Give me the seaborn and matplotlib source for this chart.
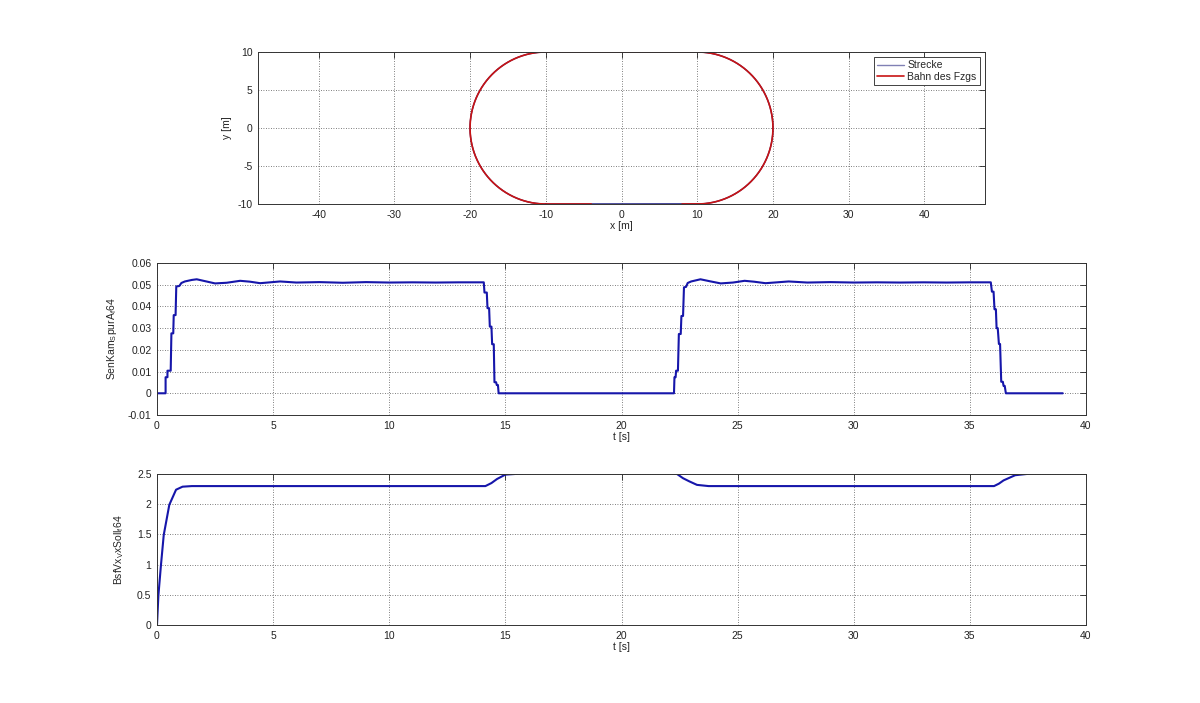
import numpy as np
import pandas as pd
import seaborn as sns
import matplotlib.pyplot as plt

# --- track geometry (stadium): straights from x=-10..10 at y=+-10, arcs of radius 10
arc_radius = 10.0
arc_centres_x = [10.0, -10.0]
straight_x = [-10.0, 10.0]
path_start_x = 8.0     # vehicle path begins on the lower straight
path_end_x = -4.0      # ... and ends on the lower straight

# --- SenKam_SpurA_f64 over time
curv_t = [0, 0.37, 0.37, 0.45, 0.45, 0.59, 0.62, 0.70, 0.72, 0.80, 0.83, 0.96, 1.05,
          1.2, 1.5, 1.71, 2.0, 2.5, 3.0, 3.58, 4.0, 4.44, 5.3, 6.0, 7.0, 8.0, 9.0,
          10.0, 11.0, 12.0, 13.0, 14.07,
          14.10, 14.20, 14.23, 14.30, 14.33, 14.40, 14.43, 14.50, 14.53, 14.60, 14.63,
          14.68, 14.71, 22.26,
          22.28, 22.33, 22.35, 22.43, 22.47, 22.55, 22.58, 22.65, 22.69, 22.78, 22.85,
          23.0, 23.4, 23.8, 24.27, 24.8, 25.3, 25.7, 26.2, 27.2, 28.0, 29.0, 30.0,
          31.0, 32.0, 33.0, 34.0, 35.0, 35.9,
          35.95, 36.02, 36.06, 36.12, 36.15, 36.20, 36.25, 36.30, 36.35, 36.42, 36.45,
          36.50, 36.55, 39.0]
curv_v = [0, 0, 0.0074, 0.0074, 0.0104, 0.0104, 0.0276, 0.0276, 0.0360, 0.0360, 0.0492, 0.0494, 0.0508,
          0.0515, 0.0522, 0.0525, 0.0518, 0.0506, 0.0509, 0.0518, 0.0514, 0.0507, 0.0515, 0.0510, 0.0512, 0.0509, 0.0512,
          0.0510, 0.0511, 0.0510, 0.0511, 0.0511,
          0.0464, 0.0464, 0.0392, 0.0392, 0.0307, 0.0307, 0.0226, 0.0226, 0.0051, 0.0051, 0.0038,
          0.0038, 0.0, 0.0,
          0.0074, 0.0074, 0.0104, 0.0104, 0.0273, 0.0273, 0.0356, 0.0356, 0.0488, 0.0490, 0.0508,
          0.0515, 0.0525, 0.0516, 0.0506, 0.0510, 0.0518, 0.0514, 0.0507, 0.0515, 0.0510, 0.0512, 0.0510,
          0.0511, 0.0510, 0.0511, 0.0510, 0.0511, 0.0511,
          0.0468, 0.0468, 0.0387, 0.0387, 0.0300, 0.0300, 0.0227, 0.0227, 0.0053, 0.0053, 0.0034,
          0.0034, 0.0, 0.0]

# --- BsfVx_VxSoll_f64 over time
vel_t = [0, 0.06, 0.17, 0.29, 0.53, 0.82, 1.1, 1.5, 14.14, 14.4, 14.64, 15.0, 15.6, 16.5,
         21.5, 22.39, 22.65, 22.92, 23.25, 23.75, 36.04, 36.25, 36.45, 36.95, 37.44, 38.2, 39.0]
vel_v = [0, 0.49, 0.99, 1.49, 1.99, 2.24, 2.29, 2.30, 2.30, 2.35, 2.417, 2.49, 2.505, 2.56,
         2.56, 2.50, 2.43, 2.378, 2.32, 2.30, 2.30, 2.34, 2.394, 2.48, 2.50, 2.55, 2.57]

top_xticks = [-40, -30, -20, -10, 0, 10, 20, 30, 40]
top_yticks = [-10, -5, 0, 5, 10]
mid_yticks = [-0.01, 0, 0.01, 0.02, 0.03, 0.04, 0.05, 0.06]
mid_ylabels = ["-0.01", "0", "0.01", "0.02", "0.03", "0.04", "0.05", "0.06"]
bot_yticks = [0, 0.5, 1, 1.5, 2, 2.5]
bot_ylabels = ["0", "0.5", "1", "1.5", "2", "2.5"]
t_ticks = [0, 5, 10, 15, 20, 25, 30, 35, 40]


def arc(cx, a0, a1, n=120):
    a = np.linspace(np.radians(a0), np.radians(a1), n)
    return cx + arc_radius * np.cos(a), arc_radius * np.sin(a)


def stadium(x_from, x_to):
    rx, ry = arc(arc_centres_x[0], -90, 90)
    lx, ly = arc(arc_centres_x[1], 90, 270)
    xs = np.concatenate([[x_from, straight_x[1]], rx, [straight_x[1], straight_x[0]], lx, [straight_x[0], x_to]])
    ys = np.concatenate([[-arc_radius, -arc_radius], ry, [arc_radius, arc_radius], ly, [-arc_radius, -arc_radius]])
    return pd.DataFrame({"x": xs, "y": ys})


track = stadium(straight_x[0], straight_x[0])
vehicle = stadium(path_start_x, path_end_x)

sns.set_style("white")
plt.rcParams["font.family"] = ["Liberation Sans", "DejaVu Sans"]
plt.rcParams["mathtext.fontset"] = "custom"
plt.rcParams["mathtext.rm"] = "Liberation Sans"
plt.rcParams["mathtext.it"] = "Liberation Sans"
fs = 7.5

fig = plt.figure(figsize=(12, 7.03), dpi=100)
ax_top = fig.add_axes([258 / 1200, 1 - 204 / 703, 727 / 1200, 152 / 703])
ax_mid = fig.add_axes([157 / 1200, 1 - 415 / 703, 929 / 1200, 152 / 703])
ax_bot = fig.add_axes([157 / 1200, 1 - 625 / 703, 929 / 1200, 151 / 703])

line_blue = "#1616aa"

sns.lineplot(data=track, x="x", y="y", sort=False, estimator=None, ax=ax_top,
             color="#1a1a80", linewidth=1.0, label="Strecke")
sns.lineplot(data=vehicle, x="x", y="y", sort=False, estimator=None, ax=ax_top,
             color="#c81414", linewidth=1.2, label="Bahn des Fzgs")
sns.lineplot(x=curv_t, y=curv_v, sort=False, estimator=None, ax=ax_mid,
             color=line_blue, linewidth=1.5)
sns.lineplot(x=vel_t, y=vel_v, sort=False, estimator=None, ax=ax_bot,
             color=line_blue, linewidth=1.5)

ax_top.set_xlim(-48, 48)
ax_top.set_ylim(-10, 10)
ax_top.set_xticks(top_xticks, [str(v) for v in top_xticks])
ax_top.set_yticks(top_yticks, [str(v) for v in top_yticks])
ax_top.set_xlabel("x [m]", fontsize=fs, labelpad=1)
ax_top.set_ylabel("y [m]", fontsize=fs, labelpad=4)

ax_mid.set_xlim(0, 40)
ax_mid.set_ylim(-0.01, 0.06)
ax_mid.set_xticks(t_ticks, [str(v) for v in t_ticks])
ax_mid.set_yticks(mid_yticks, mid_ylabels)
ax_mid.set_xlabel("t [s]", fontsize=fs, labelpad=1)
ax_mid.set_ylabel(r"SenKam$_\mathregular{S}$purA$_\mathregular{f}$64", fontsize=fs, labelpad=6)

ax_bot.set_xlim(0, 40)
ax_bot.set_ylim(0, 2.5)
ax_bot.set_xticks(t_ticks, [str(v) for v in t_ticks])
ax_bot.set_yticks(bot_yticks, bot_ylabels)
ax_bot.set_xlabel("t [s]", fontsize=fs, labelpad=1)
ax_bot.set_ylabel(r"BsfVx$_\mathregular{V}$xSoll$_\mathregular{f}$64", fontsize=fs, labelpad=8)

for ax in (ax_top, ax_mid, ax_bot):
    ax.grid(True, linestyle=(0, (1, 2)), color="#555555", linewidth=0.6)
    ax.tick_params(direction="in", length=4, width=0.6, labelsize=fs, colors="#222222",
                   top=True, right=True, pad=4)
    for s in ax.spines.values():
        s.set_color("#333333")
        s.set_linewidth(0.7)
    ax.set_axisbelow(True)

leg = ax_top.legend(loc="upper right", fontsize=fs, frameon=True, fancybox=False,
                    borderaxespad=0.5, handlelength=2.6, handletextpad=0.3,
                    borderpad=0.3, labelspacing=0.15)
leg.get_frame().set_edgecolor("#222222")
leg.get_frame().set_linewidth(0.6)
leg.get_frame().set_alpha(1)
leg.get_lines()[0].set_color("#8080b4")

fig.savefig("out.png", dpi=100)
